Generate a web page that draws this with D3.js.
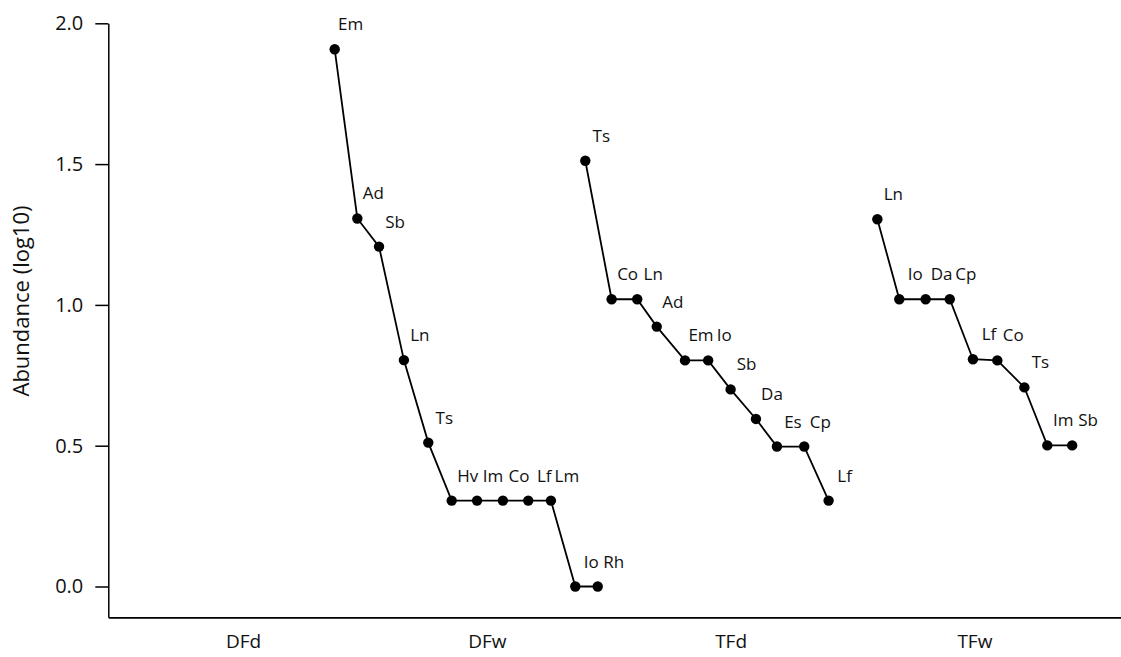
<!DOCTYPE html>
<html>
<head>
<meta charset="utf-8">
<script src="https://cdn.jsdelivr.net/npm/d3@7"></script>
<style>
  html, body { margin: 0; padding: 0; background: #fff; }
  svg { display: block; }
  text { font-family: "Open Sans", "Noto Sans", sans-serif; fill: #111; }
</style>
</head>
<body>
<svg id="chart" width="1121" height="657"></svg>
<script>
// ---- data ----
const categories = ["DFd", "DFw", "TFd", "TFw"];
const categoryPos = [1, 2, 3, 4];
const yTicks = [0.0, 0.5, 1.0, 1.5, 2.0];

const dfwSpecies = ["Em", "Ad", "Sb", "Ln", "Ts", "Hv", "Im", "Co", "Lf", "Lm", "Io", "Rh"];
const dfwX = [1.376, 1.469, 1.558, 1.660, 1.760, 1.856, 1.960, 2.066, 2.170, 2.263, 2.363, 2.455];
const dfwY = [1.908, 1.307, 1.207, 0.804, 0.511, 0.305, 0.305, 0.305, 0.305, 0.305, 0.0, 0.0];

const tfdSpecies = ["Ts", "Co", "Ln", "Ad", "Em", "Io", "Sb", "Da", "Es", "Cp", "Lf"];
const tfdX = [2.404, 2.512, 2.617, 2.697, 2.813, 2.908, 3.000, 3.104, 3.190, 3.302, 3.402];
const tfdY = [1.512, 1.020, 1.020, 0.923, 0.803, 0.803, 0.700, 0.595, 0.497, 0.497, 0.305];

const tfwSpecies = ["Ln", "Io", "Da", "Cp", "Lf", "Co", "Ts", "Im", "Sb"];
const tfwX = [3.602, 3.692, 3.800, 3.899, 3.994, 4.094, 4.205, 4.299, 4.401];
const tfwY = [1.304, 1.020, 1.020, 1.020, 0.807, 0.803, 0.707, 0.501, 0.501];

const seriesList = [
  { name: "DFw", species: dfwSpecies, xs: dfwX, ys: dfwY },
  { name: "TFd", species: tfdSpecies, xs: tfdX, ys: tfdY },
  { name: "TFw", species: tfwSpecies, xs: tfwX, ys: tfwY }
];

// ---- layout ----
const svg = d3.select("#chart");
const plotLeft = 108.3, plotRight = 1121, plotTop = 23.3, plotBottom = 617.3;

const xBase = d3.scaleLinear().domain([1, 4]).range([243, 974.4]);
const x = d3.scaleLinear()
  .domain([xBase.invert(plotLeft), xBase.invert(plotRight)])
  .range([plotLeft, plotRight]);

const yZeroPx = 586.5;
const yBase = d3.scaleLinear().domain([0, 2]).range([yZeroPx, plotTop]);
const y = d3.scaleLinear()
  .domain([yBase.invert(plotBottom), 2])
  .range([plotBottom, plotTop]);

// y axis
const yAxis = svg.append("g")
  .attr("transform", `translate(${plotLeft},0)`)
  .call(d3.axisLeft(y).tickValues(yTicks).tickFormat(d3.format(".1f"))
    .tickSize(13).tickSizeOuter(0).tickPadding(12));
yAxis.selectAll("path, line").attr("stroke", "#000").attr("stroke-width", 1.5);
yAxis.selectAll("text").style("font-size", "20px").attr("fill", "#111");

// x axis
const xAxis = svg.append("g")
  .attr("transform", `translate(0,${plotBottom})`)
  .call(d3.axisBottom(x).tickValues(categoryPos)
    .tickFormat((d, i) => categories[i])
    .tickSize(0).tickSizeOuter(0).tickPadding(17));
xAxis.selectAll("path").attr("stroke", "#000").attr("stroke-width", 1.8);
xAxis.selectAll("text").style("font-size", "19px").attr("fill", "#111");

// y title
svg.append("text")
  .attr("transform", `translate(29,301) rotate(-90)`)
  .attr("text-anchor", "middle")
  .style("font-size", "22px")
  .text("Abundance (log10)");

// series
const line = d3.line().x(d => x(d.x)).y(d => y(d.y));

seriesList.forEach(s => {
  const pts = s.species.map((sp, i) => ({ sp, x: s.xs[i], y: s.ys[i] }));
  const g = svg.append("g").attr("class", "series-" + s.name);
  g.append("path")
    .datum(pts)
    .attr("d", line)
    .attr("fill", "none")
    .attr("stroke", "#000")
    .attr("stroke-width", 1.8);
  g.selectAll("circle")
    .data(pts)
    .join("circle")
    .attr("cx", d => x(d.x))
    .attr("cy", d => y(d.y))
    .attr("r", 5.2)
    .attr("fill", "#000");
  g.selectAll("text.lbl")
    .data(pts)
    .join("text")
    .attr("class", "lbl")
    .attr("x", d => x(d.x) + 16)
    .attr("y", d => y(d.y) - 19)
    .attr("text-anchor", "middle")
    .style("font-size", "17px")
    .text(d => d.sp);
});
</script>
</body>
</html>
